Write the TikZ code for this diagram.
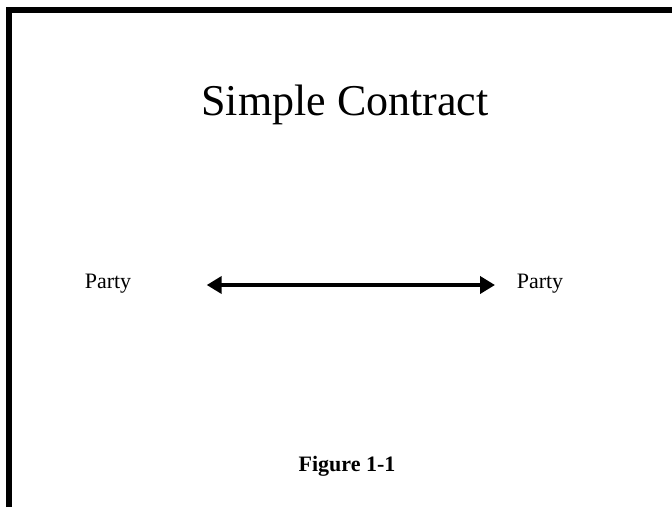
\documentclass[tikz,border=0pt]{standalone}
\usepackage{fontspec}
\setmainfont{Liberation Serif}
\usetikzlibrary{arrows.meta}
\tikzset{
  frameline/.style={line width=6pt, line join=miter},
  party/.style={anchor=base, inner sep=0pt, font=\fontsize{22}{26}\selectfont},
  link/.style={line width=4.5pt, {Triangle[length=15pt,width=17pt]}-{Triangle[length=15pt,width=17pt]}}
}
\begin{document}
\begin{tikzpicture}[x=1pt,y=-1pt]
\useasboundingbox (0,0) rectangle (672,507);
\draw[frameline] (9,507) -- (9,10) -- (672,10);
\node[anchor=base, inner sep=0pt, font=\fontsize{44}{50}\selectfont] (title) at (345,115) {Simple Contract};
\node[party] (left) at (108,288) {Party};
\node[party] (right) at (540,288) {Party};
\coordinate (aL) at (206.7,285);
\coordinate (aR) at (495,285);
\draw[link] (aL) -- (aR);
\node[anchor=base, inner sep=0pt, font=\fontsize{22}{26}\selectfont\bfseries] (fig) at (347,471) {Figure 1-1};
\end{tikzpicture}
\end{document}
